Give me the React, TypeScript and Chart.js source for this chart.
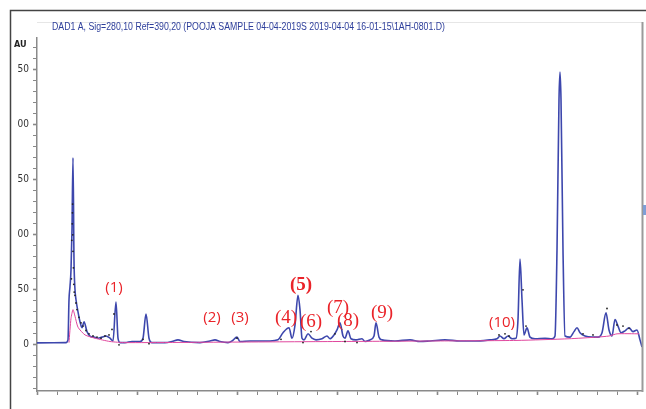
import React, { useEffect, useRef } from 'react';
import { Chart, registerables } from 'chart.js';

Chart.register(...registerables);

const TITLE = 'DAD1 A, Sig=280,10 Ref=390,20 (POOJA SAMPLE 04-04-2019S 2019-04-04 16-01-15\\1AH-0801.D)';
const Y_UNIT = 'AU';

// Signal (time in min, absorbance in mAU)
const signalTime = [
  0, 1.45, 1.55, 1.6, 1.65, 1.7, 1.75, 1.8, 1.85, 1.9, 1.95, 2.05, 2.15, 2.25, 2.35, 2.5, 2.65, 2.85, 3.05, 3.25,
  3.45, 3.65, 3.8, 3.95, 4.05, 4.15, 4.4, 4.75, 5.15, 5.3, 5.45, 5.6, 5.75, 6.4, 6.75, 7.05, 7.35, 8.15, 8.65, 8.9,
  9.15, 9.55, 9.75, 10.0, 10.15, 10.65, 11.15, 11.65, 12.05, 12.3, 12.6, 12.75, 12.9, 13.05, 13.15, 13.25, 13.35, 13.55, 13.75, 13.95,
  14.25, 14.5, 14.65, 14.85, 15.0, 15.15, 15.3, 15.4, 15.55, 15.7, 15.95, 16.25, 16.4, 16.65, 16.85, 16.95, 17.1, 17.25, 17.9, 18.65,
  19.15, 19.65, 20.4, 21.15, 21.9, 22.65, 23.0, 23.15, 23.35, 23.55, 23.75, 23.95, 24.05, 24.15, 24.25, 24.35, 24.5, 24.65, 24.9, 25.4,
  25.75, 25.9, 26.0, 26.1, 26.15, 26.2, 26.3, 26.4, 26.65, 26.85, 27.0, 27.15, 27.4, 27.75, 28.05, 28.25, 28.45, 28.6, 28.75, 28.9,
  29.05, 29.2, 29.4, 29.6, 29.8, 30.0, 30.15, 30.25,
];
const signalAU = [
  1.8, 2, 4.5, 41, 53, 68, 105, 170, 77, 50, 41, 30, 21, 15.5, 21, 12, 8, 7, 6, 7,
  8, 6, 3.5, 39, 6, 2, 2, 3, 3, 6, 28, 6, 2, 2, 3, 4.5, 3, 2, 3.5, 4.5,
  3, 2, 3.5, 7, 3, 3.5, 3.5, 3.5, 4.5, 11, 15.5, 6, 18, 45, 32, 6, 4.5, 10, 6, 4.5,
  5.5, 8, 5.5, 9, 13.5, 20, 8, 6, 12.7, 5.5, 4.5, 5.5, 3, 4.5, 8, 20, 7, 4.5, 3.5, 4.5,
  3, 3.5, 4.5, 3.5, 3.5, 4.5, 5.5, 8, 5.5, 8, 5.5, 6, 23, 78, 41, 9, 15.5, 7, 5.5, 6,
  5.5, 8, 86, 223, 248, 223, 86, 8, 7, 12, 15.5, 11, 8, 7, 7, 11, 29, 13.5, 8, 23,
  17, 11, 12.7, 15.5, 12, 13.5, 4.5, -2,
];

// Integration baseline
const baselineTime = [1.6, 1.7, 1.8, 1.9, 2.05, 2.4, 2.9, 3.65, 4.4, 10, 15, 20, 24, 26.6, 28, 28.6, 29, 30.1];
const baselineAU = [2, 24, 32, 26, 16, 9, 6, 3, 2, 2.5, 3, 3.5, 4, 5.5, 7, 8, 10, 10];

// Integration event markers
const markerTime = [1.72, 1.74, 1.76, 1.77, 1.78, 1.79, 1.8, 1.82, 1.84, 1.86, 1.9, 1.95, 2.0, 2.1, 2.2, 2.3, 2.45, 2.6, 2.8, 3.0, 3.2, 3.4, 3.6, 3.75, 3.85, 4.1, 5.3, 5.6, 10.0, 12.2, 13.3, 13.7, 14.9, 15.4, 16.0, 23.1, 23.4, 23.6, 24.3, 24.45, 27.3, 27.8, 28.5, 29.0, 29.3, 29.6];
const markerAU = [60, 95, 110, 120, 128, 100, 85, 70, 55, 48, 45, 38, 32, 25, 20, 17, 13, 10, 8, 7, 6, 8, 9, 14, 28, 0, 5, 1, 6, 5, 2, 12, 10, 3, 2, 9, 10, 8, 50, 17, 10, 9, 33, 18, 17, 15];

// Peak labels
const peakLabels = ['(1)', '(2)', '(3)', '(4)', '(5)', '(6)', '(7)', '(8)', '(9)', '(10)'];
const peakLabelTime = [3.85, 8.75, 10.15, 12.45, 13.2, 13.7, 15.05, 15.55, 17.25, 23.25];
const peakLabelAU = [52, 24.5, 24.5, 24.5, 54, 21, 33.6, 22, 29, 20];
const peakLabelSerif = [false, false, false, true, true, true, true, true, true, false];

// Axes
const Y_MIN = -42;
const Y_MAX = 279;
const X_MIN = 0;
const X_MAX = 30.25;
const yTickValues = [-40, -30, -20, -10, 0, 10, 20, 30, 40, 50, 60, 70, 80, 90, 100, 110, 120, 130, 140, 150, 160, 170, 180, 190, 200, 210, 220, 230, 240, 250, 260, 270];
const yLabelValues = [0, 50, 100, 150, 200, 250];
const yLabelTexts = ['0', '50', '00', '50', '00', '50'];
const xTickValues = [0, 1, 2, 3, 4, 5, 6, 7, 8, 9, 10, 11, 12, 13, 14, 15, 16, 17, 18, 19, 20, 21, 22, 23, 24, 25, 26, 27, 28, 29, 30];

const NARROW = '"DejaVu Sans Condensed", "Liberation Sans Narrow", "Arial Narrow", sans-serif';

const decorPlugin = {
  id: 'decor',
  afterDraw(chart: any) {
    const ctx = chart.ctx;
    const xs = chart.scales.x;
    const ys = chart.scales.y;
    const area = chart.chartArea;
    ctx.save();
    // outer frame
    ctx.strokeStyle = '#444';
    ctx.lineWidth = 1.5;
    ctx.beginPath();
    ctx.moveTo(10.5, 409);
    ctx.lineTo(10.5, 10.5);
    ctx.lineTo(646, 10.5);
    ctx.stroke();
    // inner frame
    ctx.strokeStyle = '#e6e6e6';
    ctx.lineWidth = 1;
    ctx.beginPath();
    ctx.moveTo(area.left, 22.5);
    ctx.lineTo(area.right, 22.5);
    ctx.stroke();
    ctx.strokeStyle = '#9a9a9a';
    ctx.lineWidth = 2;
    ctx.beginPath();
    ctx.moveTo(area.right + 0.5, 22);
    ctx.lineTo(area.right + 0.5, area.bottom + 1);
    ctx.stroke();
    ctx.fillStyle = '#7f9fd6';
    ctx.fillRect(area.right + 1, 205, 3, 10);
    // title, fitted to the width it takes in the original
    ctx.fillStyle = '#2c3d9a';
    ctx.font = '10px "Liberation Sans", Arial, sans-serif';
    ctx.textBaseline = 'alphabetic';
    ctx.textAlign = 'left';
    const tw = ctx.measureText(TITLE).width;
    ctx.save();
    ctx.translate(52, 30);
    ctx.scale(393 / tw, 1);
    ctx.fillText(TITLE, 0, 0);
    ctx.restore();
    // unit
    ctx.fillStyle = '#222';
    ctx.font = 'bold 9px ' + NARROW;
    ctx.fillText(Y_UNIT, 14, 47);
    // peak labels
    ctx.fillStyle = '#ea2329';
    ctx.textAlign = 'center';
    ctx.textBaseline = 'middle';
    for (let i = 0; i < peakLabels.length; i++) {
      const px = xs.getPixelForValue(peakLabelTime[i]);
      const py = ys.getPixelForValue(peakLabelAU[i]);
      if (peakLabelSerif[i]) {
        ctx.font = (i === 4 ? 'bold ' : '') + '19px "Liberation Serif", "DejaVu Serif", serif';
      } else {
        ctx.font = '15px "Open Sans", "Liberation Sans", sans-serif';
      }
      ctx.fillText(peakLabels[i], px, py);
    }
    ctx.restore();
  },
};

export default function App() {
  const ref = useRef<HTMLCanvasElement | null>(null);
  useEffect(() => {
    if (!ref.current) return;
    const signal = signalTime.map((t, i) => ({ x: t, y: signalAU[i] }));
    const baseline = baselineTime.map((t, i) => ({ x: t, y: baselineAU[i] }));
    const markers = markerTime.map((t, i) => ({ x: t, y: markerAU[i] }));
    const chart = new Chart(ref.current, {
      type: 'line',
      data: {
        datasets: [
          {
            type: 'scatter',
            data: markers,
            pointRadius: 0.9,
            pointBackgroundColor: '#222',
            pointBorderWidth: 0,
            showLine: false,
            order: 1,
          } as any,
          {
            data: baseline,
            borderColor: '#e0489e',
            borderWidth: 1,
            pointRadius: 0,
            tension: 0.2,
            order: 2,
          },
          {
            data: signal,
            borderColor: '#3d47ad',
            borderWidth: 1.6,
            pointRadius: 0,
            cubicInterpolationMode: 'monotone',
            order: 3,
          },
        ],
      },
      options: {
        animation: false,
        responsive: false,
        maintainAspectRatio: false,
        layout: { padding: { top: 38, right: 4, left: 0, bottom: 0 } },
        plugins: { legend: { display: false }, tooltip: { enabled: false }, title: { display: false } },
        scales: {
          x: {
            type: 'linear',
            min: X_MIN,
            max: X_MAX,
            afterBuildTicks: (s: any) => {
              s.ticks = xTickValues.map((v) => ({ value: v }));
            },
            afterFit: (s: any) => {
              s.height = 18;
            },
            ticks: { display: false },
            grid: {
              drawOnChartArea: false,
              drawTicks: true,
              tickLength: 4,
              color: '#888',
              tickWidth: (c: any) => (c.tick && c.tick.value % 5 === 0 ? 1.6 : 1),
            },
            border: { display: true, color: '#8a8a8a', width: 1.5 },
          },
          y: {
            type: 'linear',
            min: Y_MIN,
            max: Y_MAX,
            afterBuildTicks: (s: any) => {
              s.ticks = yTickValues.map((v) => ({ value: v }));
            },
            afterFit: (s: any) => {
              s.width = 37;
            },
            ticks: {
              padding: 4,
              autoSkip: false,
              color: '#333',
              font: { family: NARROW, size: 10 },
              callback: (v: any) => {
                const idx = yLabelValues.indexOf(Number(v));
                return idx >= 0 ? yLabelTexts[idx] : '';
              },
            },
            grid: {
              drawOnChartArea: false,
              drawTicks: true,
              tickLength: 4,
              color: '#888',
              tickWidth: (c: any) => (c.tick && c.tick.value % 50 === 0 ? 1.6 : 1),
            },
            border: { display: true, color: '#8a8a8a', width: 1.5 },
          },
        },
      },
      plugins: [decorPlugin],
    });
    return () => chart.destroy();
  }, []);
  return (
    <div style={{ position: 'fixed', left: 0, top: 0, width: 646, height: 409, background: '#fff' }}>
      <canvas ref={ref} width={646} height={409} style={{ display: 'block', width: 646, height: 409 }} />
    </div>
  );
}
